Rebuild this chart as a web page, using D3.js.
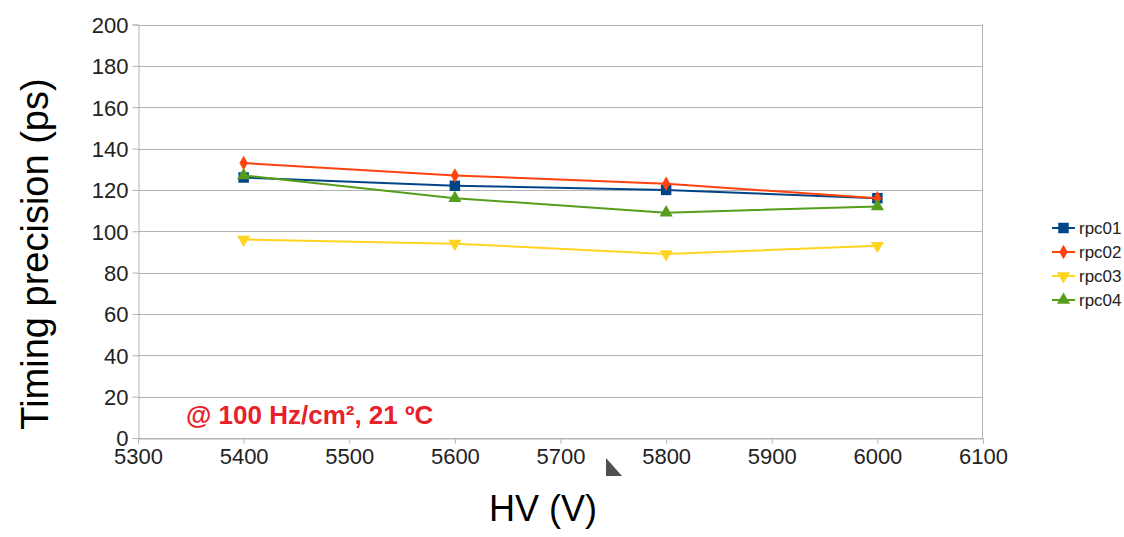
<!DOCTYPE html>
<html lang="en">
<head>
  <meta charset="UTF-8">
  <title>Timing precision vs HV</title>
<style>
  body { margin: 0; background: #fff; }
  svg { display: block; font-family: "Liberation Sans", Arial, sans-serif; }
</style>
</head>
<body>

<svg id="chart" width="1124" height="537"></svg>

<script src="https://d3js.org/d3.v7.min.js"></script>

<script>

var hv = [5400, 5600, 5800, 6000];
var rpc01 = [126, 122, 120, 116];
var rpc02 = [133, 127, 123, 116];
var rpc03 = [96, 94, 89, 93];
var rpc04 = [127, 116, 109, 112];
var xTicks = [5300, 5400, 5500, 5600, 5700, 5800, 5900, 6000, 6100];
var yTicks = [0, 20, 40, 60, 80, 100, 120, 140, 160, 180, 200];

var series = [
  { name: "rpc01", values: rpc01, color: "#004586", symbol: d3.symbolSquare, size: 110 },
  { name: "rpc02", values: rpc02, color: "#ff420e", symbol: d3.symbolDiamond, size: 60 },
  { name: "rpc03", values: rpc03, color: "#ffd320", symbol: "down", size: 75 },
  { name: "rpc04", values: rpc04, color: "#579d1c", symbol: d3.symbolTriangle, size: 75 }
];

var svg = d3.select("#chart"),
  grid = "#b3b3b3",
  x = d3.scaleLinear().domain([5300, 6100]).range([138, 983]),
  y = d3.scaleLinear().domain([0, 200]).range([438, 24.5]);

// gridlines
svg.append("g")
  .selectAll("line")
  .data(yTicks)
  .join("line")
    .attr("x1", x(5300)).attr("x2", x(6100))
    .attr("y1", function (d) { return Math.round(y(d)) + 0.5; })
    .attr("y2", function (d) { return Math.round(y(d)) + 0.5; })
    .attr("stroke", grid);

// axes
var yAxis = svg.append("g")
  .attr("transform", "translate(138.5,0)")
  .call(d3.axisLeft(y).tickValues(yTicks).tickSize(6).tickPadding(4));

var xAxis = svg.append("g")
  .attr("transform", "translate(0,438.5)")
  .call(d3.axisBottom(x).tickValues(xTicks).tickFormat(d3.format("d")).tickSize(5).tickPadding(5));

svg.append("line")
  .attr("x1", 982.5).attr("x2", 982.5)
  .attr("y1", y(200)).attr("y2", 438.5)
  .attr("stroke", grid);

[yAxis, xAxis].forEach(function (a) {
  a.selectAll(".domain").attr("stroke", grid);
  a.selectAll(".tick line").attr("stroke", grid);
  a.selectAll(".tick text")
    .attr("fill", "#222")
    .style("font-size", "22px")
    .style("font-family", "'Liberation Sans', Arial, sans-serif");
});
yAxis.selectAll(".tick text").attr("dy", "0.36em");

// lines + markers
var line = d3.line()
  .x(function (d, i) { return x(hv[i]); })
  .y(function (d) { return y(d); });

function symbolPath(s) {
  if (s.symbol === "down") {
    return d3.symbol().type(d3.symbolTriangle).size(s.size)();
  }
  return d3.symbol().type(s.symbol).size(s.size)();
}

series.forEach(function (s) {
  svg.append("path")
    .attr("d", line(s.values))
    .attr("fill", "none")
    .attr("stroke", s.color)
    .attr("stroke-width", 2);

  svg.append("g")
    .selectAll("path")
    .data(s.values)
    .join("path")
      .attr("d", symbolPath(s))
      .attr("transform", function (d, i) {
        return "translate(" + x(hv[i]) + "," + y(d) + ")" + (s.symbol === "down" ? " rotate(180)" : "");
      })
      .attr("fill", s.color);
});

// legend
var legend = svg.append("g")
  .selectAll("g")
  .data(series)
  .join("g")
    .attr("transform", function (d, i) { return "translate(1052," + (228 + i * 24) + ")"; });

legend.append("line")
  .attr("x1", 0).attr("x2", 23)
  .attr("stroke", function (d) { return d.color; })
  .attr("stroke-width", 2);

legend.append("path")
  .attr("d", function (d) { return symbolPath(d); })
  .attr("transform", function (d) { return "translate(11.5,0)" + (d.symbol === "down" ? " rotate(180)" : ""); })
  .attr("fill", function (d) { return d.color; });

legend.append("text")
  .attr("x", 27)
  .attr("dy", "0.36em")
  .attr("fill", "#222")
  .style("font-size", "17px")
  .text(function (d) { return d.name; });

// titles
svg.append("text")
  .attr("transform", "translate(48,254) rotate(-90)")
  .attr("text-anchor", "middle")
  .attr("fill", "#000")
  .style("font-size", "38px")
  .text("Timing precision (ps)");

svg.append("text")
  .attr("x", 543)
  .attr("y", 521)
  .attr("text-anchor", "middle")
  .attr("fill", "#000")
  .style("font-size", "36px")
  .text("HV (V)");

svg.append("text")
  .attr("x", 186)
  .attr("y", 424)
  .attr("fill", "#e8202a")
  .style("font-size", "26px")
  .style("font-weight", "bold")
  .text("@ 100 Hz/cm², 21 ºC");

// stray pointer glyph in the source screenshot
svg.append("path")
  .attr("d", "M606,458 L606,476 L622,476 Z")
  .attr("fill", "#505050");

</script>

</body>
</html>
